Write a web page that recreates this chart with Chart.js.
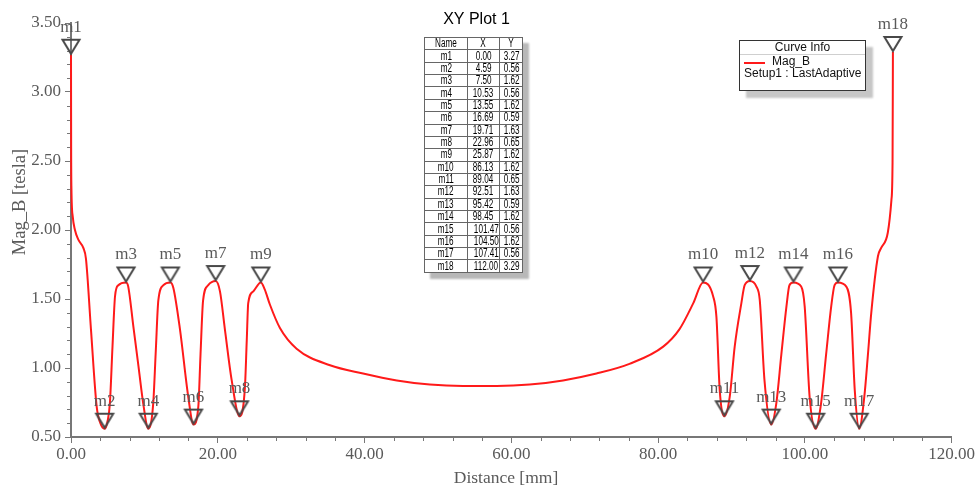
<!DOCTYPE html>
<html>
<head>
<meta charset="utf-8">
<script src="https://cdn.jsdelivr.net/npm/chart.js@4.4.1/dist/chart.umd.min.js"></script>
<style>
  html, body { margin: 0; padding: 0; background: #fff; }
  #wrap { position: relative; width: 976px; height: 489px; overflow: hidden; background: #fff; }
  #plot { position: absolute; left: 0; top: 0; }
  #mtable {
    position: absolute; left: 424px; top: 37px; width: 98px;
    border-collapse: collapse; table-layout: fixed; background: #fff;
    border: 1px solid #222; box-shadow: 6px 6px 2px #b8b8b8;
    font-family: Arial, "Liberation Sans", sans-serif; font-size: 12px; color: #000;
  }
  #mtable td {
    border: 1px solid #666; padding: 0; height: 11.37px; line-height: 11px;
    text-align: center; white-space: nowrap; overflow: visible;
  }
  #mtable span { display: inline-block; transform: scaleX(0.68); }
  #legend {
    position: absolute; left: 739px; top: 40px; width: 125px; height: 49px;
    border: 1px solid #333; background: #fff; box-shadow: 7px 7px 2px #c6c6c6;
    font-family: Arial, "Liberation Sans", sans-serif; font-size: 12px; color: #111;
  }
  #legend .hd { height: 13px; line-height: 13px; text-align: center; border-bottom: 1px solid #cfcfcf; }
  #legend .sw { position: absolute; left: 4px; top: 21px; width: 21px; height: 2px; background: #ff1a1a; }
  #legend .tx { position: absolute; line-height: 12px; white-space: nowrap; }
</style>
</head>
<body>
<div id="wrap">
  <canvas id="plot" width="976" height="489"></canvas>
  <table id="mtable">
    <colgroup><col style="width:43px"><col style="width:32px"><col style="width:23px"></colgroup>
    <tbody id="mbody"></tbody>
  </table>
  <div id="legend">
    <div class="hd">Curve Info</div>
    <div class="sw"></div>
    <span class="tx" id="lgName" style="left:32px;top:14px"></span>
    <span class="tx" id="lgSetup" style="left:4px;top:26px"></span>
  </div>
</div>
<script>
// Flux density magnitude along the measurement path
const distance = [0, 0.02, 0.06, 0.23, 0.54, 1.0, 1.68, 2.04, 2.72, 3.5, 4.0, 4.59, 5.0, 5.3, 5.65, 6.0, 6.45, 7.5, 7.8, 8.5,
  9.2, 9.85, 10.53, 11.2, 11.55, 11.9, 12.6, 13.55, 13.95, 14.85, 15.98, 16.69, 17.35, 17.65, 18.0, 18.7, 19.71, 20.3, 20.97, 21.9,
  22.96, 23.7, 23.95, 24.15, 24.83, 25.87, 26.4, 27.1, 28.47, 30.74, 35.3, 39.8, 44.4, 48.9, 53.4, 58.0, 62.5, 67.05, 71.6, 76.1,
  80.7, 82.9, 84.8, 86.13, 87.5, 87.95, 88.4, 89.04, 89.76, 90.44, 91.35, 91.8, 92.51, 93.4, 93.85, 94.5, 95.42, 96.1, 96.8, 97.5,
  97.9, 98.45, 99.5, 99.97, 100.65, 101.47, 102.2, 102.9, 103.6, 104.05, 104.5, 105.65, 106.3, 106.8, 107.41, 108.1, 108.6, 109.05,
  109.96, 110.4, 111.3, 111.8, 111.95, 112.0];
const magB = [3.27, 2.60, 2.30, 2.10, 2.00, 1.93, 1.87, 1.79, 1.28, 0.72, 0.60, 0.56, 0.62, 0.745, 1.15, 1.52, 1.60, 1.62, 1.59, 1.30,
  1.01, 0.74, 0.56, 0.74, 1.12, 1.49, 1.60, 1.62, 1.58, 1.28, 0.79, 0.59, 0.72, 1.10, 1.49, 1.60, 1.63, 1.555, 1.28, 0.91,
  0.65, 0.86, 1.20, 1.47, 1.555, 1.62, 1.57, 1.46, 1.29, 1.14, 1.02, 0.96, 0.91, 0.88, 0.87, 0.87, 0.88, 0.91, 0.96, 1.03,
  1.155, 1.28, 1.47, 1.62, 1.52, 1.37, 0.84, 0.65, 0.79, 1.155, 1.47, 1.60, 1.63, 1.59, 1.495, 0.91, 0.59, 0.74, 1.10, 1.45,
  1.60, 1.62, 1.59, 1.45, 0.79, 0.56, 0.74, 1.10, 1.45, 1.60, 1.62, 1.59, 1.40, 0.84, 0.56, 0.79, 1.10, 1.40,
  1.81, 1.87, 1.98, 2.22, 2.49, 3.29];

// Markers placed on the curve
const markerNames = ['m1', 'm2', 'm3', 'm4', 'm5', 'm6', 'm7', 'm8', 'm9', 'm10', 'm11', 'm12', 'm13', 'm14', 'm15', 'm16', 'm17', 'm18'];
const markerX = [0.00, 4.59, 7.50, 10.53, 13.55, 16.69, 19.71, 22.96, 25.87, 86.13, 89.04, 92.51, 95.42, 98.45, 101.47, 104.50, 107.41, 112.00];
const markerY = [3.27, 0.56, 1.62, 0.56, 1.62, 0.59, 1.63, 0.65, 1.62, 1.62, 0.65, 1.63, 0.59, 1.62, 0.56, 1.62, 0.56, 3.29];

// Axis ticks and texts
const xTickValues = [0, 20, 40, 60, 80, 100, 120];
const yTickValues = [0.5, 1.0, 1.5, 2.0, 2.5, 3.0, 3.5];
const plotTitle = 'XY Plot 1';
const xTitle = 'Distance [mm]';
const yTitle = 'Mag_B [tesla]';
const seriesName = 'Mag_B';
const setupName = 'Setup1 : LastAdaptive';
const tableHeader = ['Name', 'X', 'Y'];

// Marker table
const body = document.getElementById('mbody');
const addRow = (cells) => {
  const tr = document.createElement('tr');
  cells.forEach(c => {
    const td = document.createElement('td');
    const sp = document.createElement('span');
    sp.textContent = c;
    td.appendChild(sp);
    tr.appendChild(td);
  });
  body.appendChild(tr);
};
addRow(tableHeader);
markerNames.forEach((n, i) => addRow([n, markerX[i].toFixed(2), markerY[i].toFixed(2)]));

document.getElementById('lgName').textContent = seriesName;
document.getElementById('lgSetup').textContent = setupName;

// Downward triangle whose tip sits at the canvas centre
function makeMarkerGlyph() {
  const c = document.createElement('canvas');
  c.width = 22; c.height = 44;
  const g = c.getContext('2d');
  g.strokeStyle = '#484848';
  g.lineWidth = 2;
  g.beginPath();
  g.moveTo(2.5, 7);
  g.lineTo(19.5, 7);
  g.lineTo(11, 21);
  g.closePath();
  g.stroke();
  return c;
}
const markerGlyph = makeMarkerGlyph();

const serif = '"Liberation Serif", "Times New Roman", serif';
const axisColor = '#777777';
const textColor = '#5a5a5a';

const extras = {
  id: 'extras',
  beforeDatasetsDraw(chart) {
    const ctx = chart.ctx;
    const xs = chart.scales.x, ys = chart.scales.y;
    ctx.save();
    ctx.strokeStyle = axisColor;
    ctx.lineWidth = 1;
    ctx.beginPath();
    for (let i = 1; i < 30; i++) {
      if (i % 5 === 0) continue;
      const py = Math.round(ys.getPixelForValue(0.5 + i * 0.1)) + 0.5;
      ctx.moveTo(ys.right - 4, py);
      ctx.lineTo(ys.right, py);
    }
    for (let k = 1; k < 30; k++) {
      if (k % 5 === 0) continue;
      const px = Math.round(xs.getPixelForValue(k * 4)) + 0.5;
      ctx.moveTo(px, xs.top);
      ctx.lineTo(px, xs.top + 4);
    }
    ctx.stroke();
    ctx.restore();
  },
  afterDatasetsDraw(chart) {
    const ctx = chart.ctx;
    ctx.save();
    ctx.fillStyle = textColor;
    ctx.font = '17px ' + serif;
    ctx.textAlign = 'center';
    ctx.textBaseline = 'middle';
    const meta = chart.getDatasetMeta(1);
    meta.data.forEach((el, i) => {
      ctx.fillText(markerNames[i], el.x, el.y - 27.5);
    });
    ctx.restore();
  },
  afterDraw(chart) {
    const ctx = chart.ctx;
    ctx.save();
    ctx.textAlign = 'center';
    ctx.textBaseline = 'middle';
    ctx.fillStyle = '#000';
    ctx.font = '16px Arial, "Liberation Sans", sans-serif';
    ctx.fillText(plotTitle, 476.5, 20);
    ctx.fillStyle = textColor;
    ctx.font = '17.5px ' + serif;
    ctx.fillText(xTitle, 506, 478);
    ctx.translate(20, 202);
    ctx.rotate(-Math.PI / 2);
    ctx.font = '18.5px ' + serif;
    ctx.fillText(yTitle, 0, 0);
    ctx.restore();
  }
};

new Chart(document.getElementById('plot'), {
  type: 'line',
  data: {
    datasets: [
      {
        label: seriesName,
        data: distance.map((d, i) => ({ x: d, y: magB[i] })),
        borderColor: '#ff1a1a',
        borderWidth: 2,
        pointRadius: 0,
        cubicInterpolationMode: 'monotone',
        clip: false,
        order: 1
      },
      {
        label: 'markers',
        data: markerX.map((d, i) => ({ x: d, y: markerY[i] })),
        showLine: false,
        pointStyle: markerGlyph,
        pointRadius: 3,
        clip: false,
        order: 0
      }
    ]
  },
  options: {
    responsive: false,
    animation: false,
    devicePixelRatio: 1,
    layout: { padding: { top: 23, right: 24, left: 0, bottom: 0 } },
    plugins: { legend: { display: false }, tooltip: { enabled: false } },
    events: [],
    scales: {
      x: {
        type: 'linear',
        min: 0, max: 120,
        afterFit(s) { s.height = 52; },
        afterBuildTicks(s) { s.ticks = xTickValues.map(v => ({ value: v })); },
        grid: { drawOnChartArea: false, color: axisColor, tickLength: 6 },
        border: { display: true, color: axisColor, width: 2 },
        ticks: {
          color: textColor, font: { family: serif, size: 17 }, padding: 1,
          maxRotation: 0, autoSkip: false,
          callback: v => Number(v).toFixed(2)
        }
      },
      y: {
        type: 'linear',
        min: 0.5, max: 3.5,
        afterFit(s) { s.width = 71; },
        afterBuildTicks(s) { s.ticks = yTickValues.map(v => ({ value: v })); },
        grid: { drawOnChartArea: false, color: axisColor, tickLength: 6 },
        border: { display: true, color: axisColor, width: 2 },
        ticks: {
          color: textColor, font: { family: serif, size: 17 }, padding: 4,
          autoSkip: false,
          callback: v => Number(v).toFixed(2)
        }
      }
    }
  },
  plugins: [extras]
});
</script>
</body>
</html>
